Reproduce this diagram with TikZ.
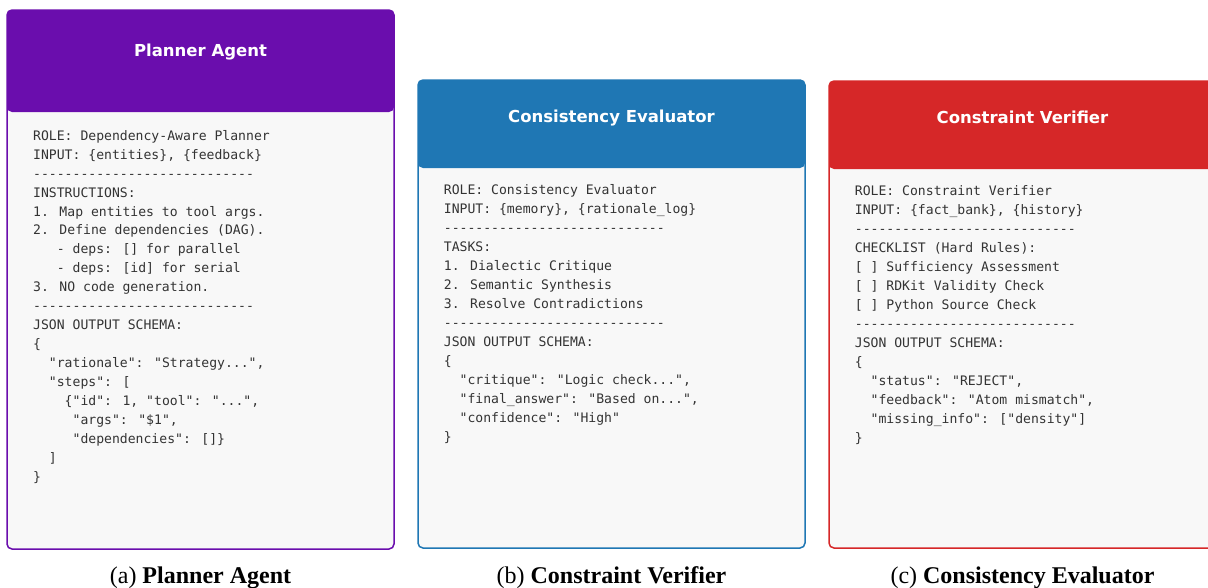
\documentclass[tikz,border=0pt]{standalone}
\usepackage{fontspec}
\setmainfont{Liberation Serif}
\newfontfamily\monof{DejaVu Sans Mono}
\newfontfamily\titlef{DejaVu Sans}
\definecolor{pa}{HTML}{6A0DAD}
\definecolor{pb}{HTML}{1F77B4}
\definecolor{pc}{HTML}{D62728}
\definecolor{bodyfill}{HTML}{F8F8F8}
\definecolor{txt}{HTML}{333333}
\newcommand\dashrow{\foreach\k in {1,...,28}{-}}
\newcommand\ind[1]{\hspace*{#1\fontcharwd\font`\x}}
\tikzset{
  panelbody/.style={fill=bodyfill, draw=#1, line width=1.5pt, rounded corners=5pt},
  panelhead/.style={fill=#1, rounded corners=5pt},
  monotext/.style={anchor=north west, inner sep=0pt, align=left, text=txt,
    font=\monof\fontsize{13.1}{18.95}\selectfont},
  titletext/.style={anchor=base, inner sep=0pt, text=white,
    font=\titlef\bfseries\fontsize{16.5}{20}\selectfont},
  captext/.style={anchor=base, inner sep=0pt, text=black,
    font=\fontsize{24}{28}\selectfont},
}
\begin{document}
\begin{tikzpicture}[x=1pt,y=-1pt]
\useasboundingbox[fill=white] (0,0) rectangle (1208,587);
% panel a
\path[panelbody=pa] (7,10) rectangle (394,549);
\path[panelhead=pa] (7,10) rectangle (394,112);
\node[titletext] (titleA) at (200.5,56.5) {Planner Agent};
\node[monotext] (textA) at (33,129) {\rule{0pt}{11pt}ROLE: Dependency-Aware Planner\\
INPUT: \{entities\}, \{feedback\}\\
\dashrow\\
INSTRUCTIONS:\\
1. Map entities to tool args.\\
2. Define dependencies (DAG).\\
\ind{3}- deps: [] for parallel\\
\ind{3}- deps: [id] for serial\\
3. NO code generation.\\
\dashrow\\
JSON OUTPUT SCHEMA:\\
\{\\
\ind{2}"rationale": "Strategy...",\\
\ind{2}"steps": [\\
\ind{4}\{"id": 1, "tool": "...",\\
\ind{5}"args": "\$1",\\
\ind{5}"dependencies": []\}\\
\ind{2}]\\
\}};
\node[captext] (capA) at (200.5,583) {(a) \textbf{Planner Agent}};
% panel b
\path[panelbody=pb] (418,80) rectangle (805,548);
\path[panelhead=pb] (418,80) rectangle (805,168);
\node[titletext] (titleB) at (611.5,122) {Consistency Evaluator};
\node[monotext] (textB) at (443.7,183.5) {\rule{0pt}{11pt}ROLE: Consistency Evaluator\\
INPUT: \{memory\}, \{rationale\_log\}\\
\dashrow\\
TASKS:\\
1. Dialectic Critique\\
2. Semantic Synthesis\\
3. Resolve Contradictions\\
\dashrow\\
JSON OUTPUT SCHEMA:\\
\{\\
\ind{2}"critique": "Logic check...",\\
\ind{2}"final\_answer": "Based on...",\\
\ind{2}"confidence": "High"\\
\}};
\node[captext] (capB) at (611.5,583) {(b) \textbf{Constraint Verifier}};
% panel c
\path[panelbody=pc] (829,81) rectangle (1216,548);
\path[panelhead=pc] (829,81) rectangle (1216,169);
\node[titletext] (titleC) at (1022.5,123) {Constraint Verifier};
\node[monotext] (textC) at (854.7,184.5) {\rule{0pt}{11pt}ROLE: Constraint Verifier\\
INPUT: \{fact\_bank\}, \{history\}\\
\dashrow\\
CHECKLIST (Hard Rules):\\
{[} ] Sufficiency Assessment\\
{[} ] RDKit Validity Check\\
{[} ] Python Source Check\\
\dashrow\\
JSON OUTPUT SCHEMA:\\
\{\\
\ind{2}"status": "REJECT",\\
\ind{2}"feedback": "Atom mismatch",\\
\ind{2}"missing\_info": ["density"]\\
\}};
\node[captext] (capC) at (1022.5,583) {(c) \textbf{Consistency Evaluator}};
\end{tikzpicture}
\end{document}
